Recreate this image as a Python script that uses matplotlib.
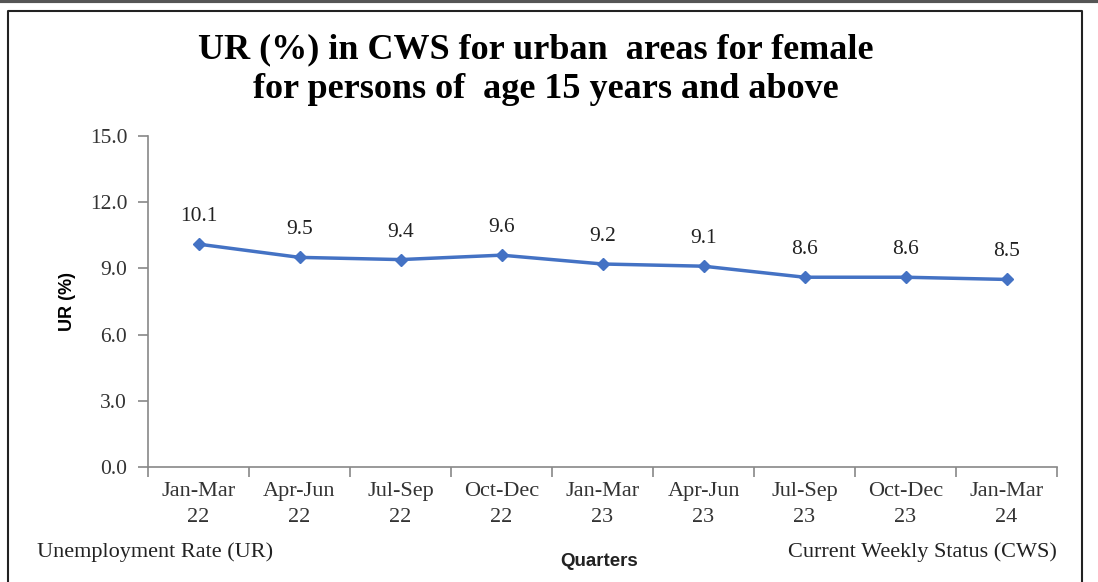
import numpy as np
import matplotlib
matplotlib.use("Agg")
import matplotlib.pyplot as plt
from matplotlib.lines import Line2D
from matplotlib.ticker import FixedLocator, NullFormatter

quarters = ["Jan-Mar\n22", "Apr-Jun\n22", "Jul-Sep\n22", "Oct-Dec\n22", "Jan-Mar\n23",
            "Apr-Jun\n23", "Jul-Sep\n23", "Oct-Dec\n23", "Jan-Mar\n24"]
ur = [10.1, 9.5, 9.4, 9.6, 9.2, 9.1, 8.6, 8.6, 8.5]
yticks = [0.0, 3.0, 6.0, 9.0, 12.0, 15.0]

serif = "Liberation Serif"
sans = "Liberation Sans"

fig = plt.figure(figsize=(10.98, 5.82), dpi=100)
ax = fig.add_axes([0.1348, 0.1976, 0.8279, 0.5687])

x = np.arange(len(ur))
ax.plot(x, ur, color="#4472C4", linewidth=2.5, marker="D", markersize=6.5)
for xi, v in zip(x, ur):
    ax.annotate(f"{v:.1f}", (xi, v), xytext=(0, 13), textcoords="offset points",
                ha="center", va="bottom", fontsize=15.5, family=serif, color="#222222")

ax.set_xlim(-0.5, len(ur) - 0.5)
ax.set_ylim(0, 15)
ax.set_yticks(yticks)
ax.set_yticklabels([f"{t:.1f}" for t in yticks], family=serif, fontsize=15.5, color="#333333")
ax.set_xticks(x)
ax.set_xticklabels(quarters, family=serif, fontsize=16, color="#333333", linespacing=1.45)
ax.tick_params(axis="x", which="major", length=0, pad=11)
ax.xaxis.set_minor_locator(FixedLocator(np.arange(-0.5, len(ur), 1.0)))
ax.xaxis.set_minor_formatter(NullFormatter())
ax.tick_params(axis="x", which="minor", length=7, color="#888888", width=1.2)
ax.tick_params(axis="y", length=7, color="#888888", width=1.2, pad=8)
for s in ["top", "right"]:
    ax.spines[s].set_visible(False)
for s in ["left", "bottom"]:
    ax.spines[s].set_color("#888888")
    ax.spines[s].set_linewidth(1.2)

ax.set_ylabel("UR (%)", family=sans, fontweight="bold", fontsize=13, labelpad=10)

fig.text(0.488, 0.915, "UR (%) in CWS for urban  areas for female",
         ha="center", va="center", family=serif, fontweight="bold", fontsize=26)
fig.text(0.497, 0.847, "for persons of  age 15 years and above",
         ha="center", va="center", family=serif, fontweight="bold", fontsize=26)

fig.text(0.546, 0.036, "Quarters", ha="center", va="center", family=sans,
         fontweight="bold", fontsize=13.5, color="#222222")
fig.text(0.034, 0.052, "Unemployment Rate (UR)", ha="left", va="center",
         family=serif, fontsize=16, color="#222222")
fig.text(0.963, 0.052, "Current Weekly Status (CWS)", ha="right", va="center",
         family=serif, fontsize=16, color="#222222")

# outer frame and top rule
fig.add_artist(Line2D([0, 1], [0.998, 0.998], transform=fig.transFigure, color="#555555", linewidth=3))
fig.add_artist(Line2D([0.0075, 0.0075, 0.9855, 0.9855], [0.0, 0.981, 0.981, 0.0],
                      transform=fig.transFigure, color="#222222", linewidth=1.5))

fig.savefig("out.png", dpi=100)
